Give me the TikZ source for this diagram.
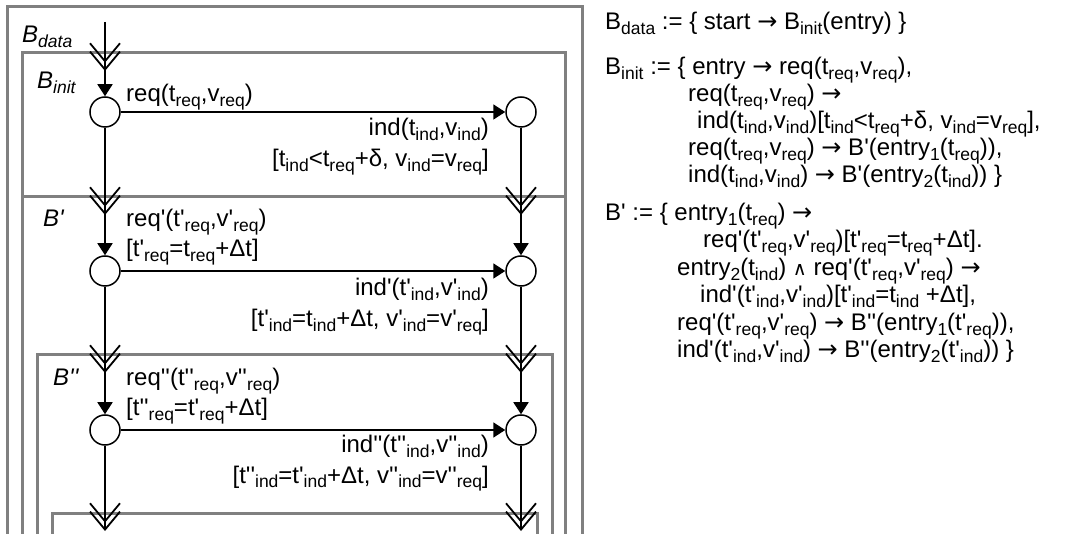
\documentclass[tikz,border=0pt]{standalone}
\usepackage{fontspec}
\setmainfont{Liberation Sans}[Ligatures=TeXOff]
\newfontfamily\symf{DejaVu Sans}
\usepackage{xcolor}
\usepackage{tikz}
\usetikzlibrary{arrows.meta,positioning}

\definecolor{boxgray}{RGB}{128,128,128}
\newcommand{\sbt}[1]{\raisebox{-4.5pt}{\fontsize{17.5}{17.5}\selectfont #1}}
\newcommand{\toar}{{\symf →}}
\newcommand{\andsym}{{\fontsize{19}{19}\symf ∧}}

\begin{document}
\begin{tikzpicture}[x=1pt,y=-1pt,font=\fontsize{24}{28}\selectfont,
	box/.style={draw=boxgray,line width=3pt},
	state/.style={draw,circle,line width=1.5pt,minimum size=30pt,inner sep=0pt},
	flow/.style={line width=1.8pt,-{Triangle[length=12pt,width=15pt]}},
	entry/.style={line width=1.8pt,-{Straight Barb[length=18pt,width=30pt,sep=-12pt]Straight Barb[length=18pt,width=30pt,sep=-12pt]}},
	blk/.style={inner sep=0pt,font=\fontsize{24}{28}\selectfont\itshape},
	lab/.style={inner sep=0pt}]
	\useasboundingbox (0,0) rectangle (1074,534);
	% blocks
	\draw[box] (7,540) -- (7,7) -- (582,7) -- (582,540);
	\draw[box] (22,540) -- (22,53) -- (565,53) -- (565,540);
	\draw[box] (22,197) -- (565,197);
	\draw[box] (37,540) -- (37,355) -- (552,355) -- (552,540);
	\draw[box] (52,540) -- (52,513) -- (537,513) -- (537,540);
	\node[blk,anchor=base west] (bdata) at (22,43) {B\sbt{data}};
	\node[blk,anchor=base west] (binit) at (37,89) {B\sbt{init}};
	\node[blk,anchor=base west] (bone) at (43,227) {B'};
	\node[blk,anchor=base west] (btwo) at (53,386) {B''};
	% states
	\node[state] (l1) at (105,112) {};
	\node[state] (r1) at (521,112) {};
	\node[state] (l2) at (105,271) {};
	\node[state] (r2) at (521,271) {};
	\node[state] (l3) at (105,430) {};
	\node[state] (r3) at (521,430) {};
	\coordinate (start) at (105,22);
	\coordinate (lin1) at (105,59);
	\coordinate (lin2) at (105,203);
	\coordinate (rin2) at (521,203);
	\coordinate (lin3) at (105,361);
	\coordinate (rin3) at (521,361);
	\coordinate (lin4) at (105,519);
	\coordinate (rin4) at (521,519);
	% connectors
	\draw[entry] (start) -- (lin1);
	\draw[flow] (lin1) -- (l1);
	\draw[flow] (l1) -- (r1);
	\draw[entry] (l1) -- (lin2);
	\draw[entry] (r1) -- (rin2);
	\draw[flow] (lin2) -- (l2);
	\draw[flow] (rin2) -- (r2);
	\draw[flow] (l2) -- (r2);
	\draw[entry] (l2) -- (lin3);
	\draw[entry] (r2) -- (rin3);
	\draw[flow] (lin3) -- (l3);
	\draw[flow] (rin3) -- (r3);
	\draw[flow] (l3) -- (r3);
	\draw[entry] (l3) -- (lin4);
	\draw[entry] (r3) -- (rin4);
	% labels
	\node[lab,anchor=base west] (q1) at (126,102) {req(t\sbt{req},v\sbt{req})};
	\node[lab,anchor=base east] (i1) at (489,136) {ind(t\sbt{ind},v\sbt{ind})};
	\node[lab,anchor=base east] (g1) at (489,167) {[t\sbt{ind}<t\sbt{req}+δ, v\sbt{ind}=v\sbt{req}]};
	\node[lab,anchor=base west] (q2) at (126,227) {req'(t'\sbt{req},v'\sbt{req})};
	\node[lab,anchor=base west] (c2) at (126,257) {[t'\sbt{req}=t\sbt{req}+Δt]};
	\node[lab,anchor=base east] (i2) at (489,296) {ind'(t'\sbt{ind},v'\sbt{ind})};
	\node[lab,anchor=base east] (g2) at (489,327) {[t'\sbt{ind}=t\sbt{ind}+Δt, v'\sbt{ind}=v'\sbt{req}]};
	\node[lab,anchor=base west] (q3) at (126,386) {req''(t''\sbt{req},v''\sbt{req})};
	\node[lab,anchor=base west] (c3) at (126,416) {[t''\sbt{req}=t'\sbt{req}+Δt]};
	\node[lab,anchor=base east] (i3) at (489,453) {ind''(t''\sbt{ind},v''\sbt{ind})};
	\node[lab,anchor=base east] (g3) at (489,483) {[t''\sbt{ind}=t'\sbt{ind}+Δt, v''\sbt{ind}=v''\sbt{req}]};
	% definitions
	\node[lab,anchor=base west] (def1) at (605,30) {B\sbt{data} := \{ start \toar{} B\sbt{init}(entry) \}};
	\node[lab,anchor=base west] (def2) at (605,75) {B\sbt{init} := \{ entry \toar{} req(t\sbt{req},v\sbt{req}),};
	\node[lab,anchor=base west] (def3) at (688,102) {req(t\sbt{req},v\sbt{req}) \toar};
	\node[lab,anchor=base west] (def4) at (697,129) {ind(t\sbt{ind},v\sbt{ind})[t\sbt{ind}<t\sbt{req}+δ, v\sbt{ind}=v\sbt{req}],};
	\node[lab,anchor=base west] (def5) at (688,156) {req(t\sbt{req},v\sbt{req}) \toar{} B'(entry\sbt{1}(t\sbt{req})),};
	\node[lab,anchor=base west] (def6) at (688,183) {ind(t\sbt{ind},v\sbt{ind}) \toar{} B'(entry\sbt{2}(t\sbt{ind})) \}};
	\node[lab,anchor=base west] (def7) at (605,221) {B' := \{ entry\sbt{1}(t\sbt{req}) \toar};
	\node[lab,anchor=base west] (def8) at (703,248) {req'(t'\sbt{req},v'\sbt{req})[t'\sbt{req}=t\sbt{req}+Δt].};
	\node[lab,anchor=base west] (def9) at (677,276) {entry\sbt{2}(t\sbt{ind}) \andsym{} req'(t'\sbt{req},v'\sbt{req}) \toar};
	\node[lab,anchor=base west] (def10) at (700,303) {ind'(t'\sbt{ind},v'\sbt{ind})[t'\sbt{ind}=t\sbt{ind} +Δt],};
	\node[lab,anchor=base west] (def11) at (677,331) {req'(t'\sbt{req},v'\sbt{req}) \toar{} B''(entry\sbt{1}(t'\sbt{req})),};
	\node[lab,anchor=base west] (def12) at (677,358) {ind'(t'\sbt{ind},v'\sbt{ind}) \toar{} B''(entry\sbt{2}(t'\sbt{ind})) \}};
\end{tikzpicture}
\end{document}
